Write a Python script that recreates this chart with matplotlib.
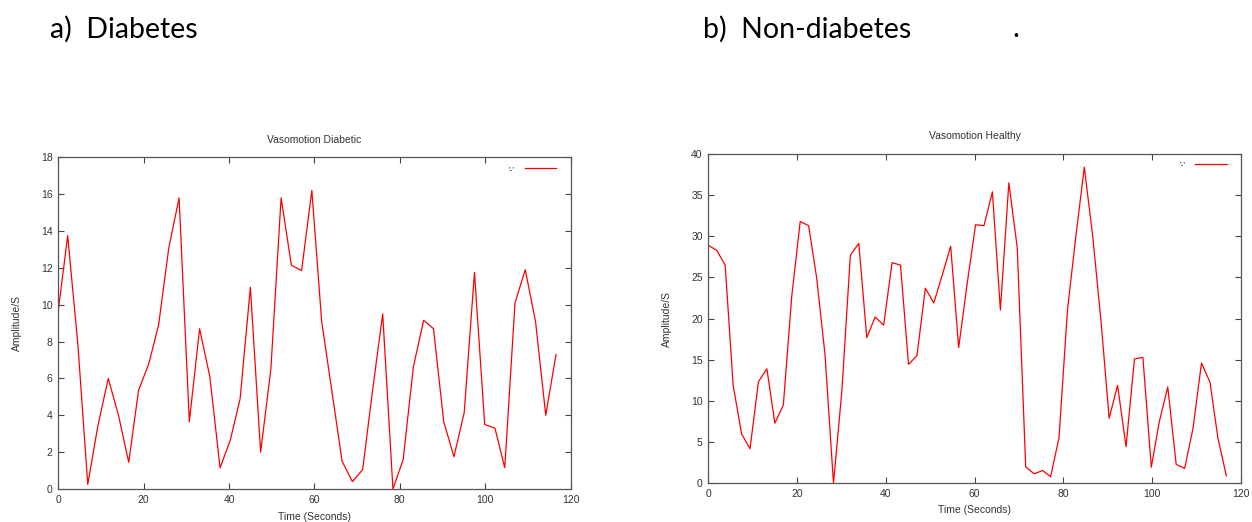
import matplotlib
matplotlib.use("Agg")
import matplotlib.pyplot as plt

# sample times (seconds) and amplitudes
diab_time = [0, 2.2, 4.6, 6.9, 9.25, 11.7, 14.1, 16.5, 18.8, 21.2,
             23.5, 25.9, 28.3, 30.7, 33.1, 35.5, 37.9, 40.3, 42.6, 45.0,
             47.4, 49.8, 52.2, 54.6, 57.0, 59.4, 61.7, 64.1, 66.5, 68.9,
             71.3, 73.6, 76.0, 78.4, 80.8, 83.2, 85.6, 87.9, 90.3, 92.7,
             95.1, 97.5, 99.9, 102.3, 104.6, 107.0, 109.4, 111.8, 114.2, 116.6]
diab_amp = [9.7, 13.75, 7.8, 0.25, 3.4, 6.0, 4.0, 1.45, 5.35, 6.8,
            8.9, 13.1, 15.8, 3.65, 8.7, 6.1, 1.15, 2.65, 4.9, 10.95,
            2.0, 6.5, 15.8, 12.15, 11.85, 16.2, 9.1, 5.3, 1.5, 0.4,
            1.05, 5.3, 9.5, 0.0, 1.6, 6.65, 9.15, 8.7, 3.65, 1.75,
            4.15, 11.75, 3.5, 3.3, 1.15, 10.1, 11.9, 9.1, 4.0, 7.3]

health_time = [0, 1.9, 3.8, 5.6, 7.5, 9.4, 11.3, 13.2, 15.0, 16.9,
               18.8, 20.7, 22.6, 24.4, 26.3, 28.2, 30.1, 32.0, 33.9, 35.7,
               37.6, 39.5, 41.4, 43.3, 45.1, 47.0, 48.9, 50.8, 52.7, 54.6,
               56.4, 58.3, 60.2, 62.1, 64.0, 65.8, 67.7, 69.6, 71.5, 73.4,
               75.3, 77.1, 79.0, 80.9, 82.8, 84.7, 86.6, 88.5, 90.3, 92.2,
               94.1, 96.0, 97.9, 99.8, 101.6, 103.5, 105.4, 107.3, 109.2, 111.1,
               113.0, 114.8, 116.7]
health_amp = [28.9, 28.3, 26.5, 11.9, 6.0, 4.2, 12.35, 13.9, 7.3, 9.5,
              22.7, 31.8, 31.3, 25.0, 15.6, 0.0, 11.3, 27.7, 29.15, 17.7,
              20.2, 19.2, 26.8, 26.5, 14.45, 15.5, 23.7, 21.9, 25.3, 28.8,
              16.5, 24.2, 31.4, 31.3, 35.4, 21.05, 36.5, 28.6, 2.0, 1.15,
              1.55, 0.8, 5.5, 21.0, 30.0, 38.4, 30.0, 19.5, 7.9, 11.9,
              4.45, 15.1, 15.3, 1.95, 7.5, 11.7, 2.3, 1.8, 6.7, 14.6,
              12.3, 5.5, 0.9]

W, H = 1252, 522
GP_FONT = "Liberation Sans"
TXT = "#333333"

fig = plt.figure(figsize=(W / 100, H / 100), dpi=100)


def px_axes(left, top, right, bottom):
    return fig.add_axes([left / W, 1 - bottom / H, (right - left) / W, (bottom - top) / H])


def style_panel(ax, ymax, ystep, title, title_xy, ylab_x, xlab_y, leg_lift):
    ax.set_xlim(0, 120)
    ax.set_ylim(0, ymax)
    ax.set_xticks(range(0, 121, 20))
    ax.set_yticks(range(0, ymax + 1, ystep))
    ax.tick_params(direction="in", top=True, right=True, length=4, width=0.8,
                   labelsize=7.5, labelcolor=TXT, color="#444444", pad=4)
    for lab in ax.get_xticklabels() + ax.get_yticklabels():
        lab.set_fontfamily(GP_FONT)
    for sp in ax.spines.values():
        sp.set_color("#555555")
        sp.set_linewidth(0.9)
    ax.legend(loc="upper right", bbox_to_anchor=(1, 1 + leg_lift),
              frameon=False, markerfirst=False,
              handlelength=3.8, borderaxespad=1.3, handletextpad=1.2,
              prop={"family": GP_FONT, "size": 6})
    cx = title_xy[0]
    pos = ax.get_position()
    fig.text(cx / W, 1 - title_xy[1] / H, title, ha="center", va="center",
             fontsize=7.5, family=GP_FONT, color=TXT)
    fig.text(ylab_x / W, (pos.y0 + pos.y1) / 2, "Amplitude/S", rotation=90,
             ha="center", va="center", fontsize=7.5, family=GP_FONT, color=TXT)
    fig.text(cx / W, 1 - xlab_y / H, "Time (Seconds)", ha="center", va="center",
             fontsize=7.5, family=GP_FONT, color=TXT)


ax1 = px_axes(58.3, 157.3, 570.5, 489)
ax1.plot(diab_time, diab_amp, color="red", lw=0.9, label="'-'")
style_panel(ax1, 18, 2, "Vasomotion Diabetic", (314.4, 140), 17, 517, 0.018)

ax2 = px_axes(708.3, 154, 1241, 483.3)
ax2.plot(health_time, health_amp, color="red", lw=0.9, label="'-'")
style_panel(ax2, 40, 5, "Vasomotion Healthy", (974.7, 136), 667, 510, 0.023)

# panel headers
fig.text(50 / W, 1 - 29 / H, "a)  Diabetes", ha="left", va="center",
         fontsize=20.5, family="Lato", color="black")
fig.text(703 / W, 1 - 29 / H, "b)  Non-diabetes", ha="left", va="center",
         fontsize=20.5, family="Lato", color="black")
fig.text(1012 / W, 1 - 29 / H, ".", ha="left", va="center",
         fontsize=20.5, family="Lato", color="black")

fig.savefig("out.png", dpi=100)
